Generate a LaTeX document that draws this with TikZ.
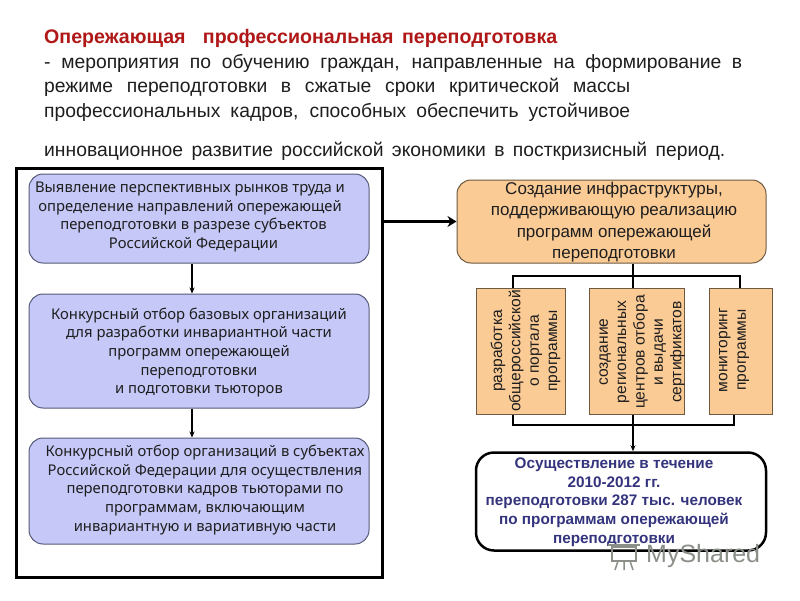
\documentclass[tikz,border=0pt]{standalone}
\usepackage{fontspec}
\setmainfont{Liberation Sans}
\newfontfamily\tahomafont{Noto Sans}
\usepackage{xcolor}
\usetikzlibrary{arrows.meta}
\definecolor{rosso}{HTML}{B01818}
\definecolor{lilla}{HTML}{C6C8F8}
\definecolor{lillabordo}{HTML}{565A78}
\definecolor{arancio}{HTML}{FBCB96}
\definecolor{aranciobordo}{HTML}{6E5A40}
\definecolor{notte}{HTML}{34347E}
\definecolor{testo}{HTML}{1E1E1E}
\definecolor{grigio}{HTML}{8A9088}
\tikzset{
  riga/.style={anchor=west, inner sep=0pt, text=testo, font=\fontsize{19.3}{20}\selectfont},
  lillabox/.style={draw=lillabordo, fill=lilla, rounded corners=14pt, line width=1pt, inner sep=0pt},
  lillatesto/.style={align=center, inner sep=0pt, text=testo, font=\tahomafont\fontsize{14.8}{18.7}\selectfont},
  aranciobox/.style={draw=aranciobordo, fill=arancio, line width=1pt, inner sep=0pt},
  verttesto/.style={rotate=90, align=center, inner sep=0pt, text=testo, font=\fontsize{15.6}{18.4}\selectfont},
  freccia/.style={-{Stealth[length=6pt,width=5pt]}, line width=1.2pt},
  ramo/.style={line width=1.4pt}
}
\begin{document}
\begin{tikzpicture}[x=1pt, y=-1pt]
  \useasboundingbox (0,0) rectangle (800,600);
  \fill[white] (0,0) rectangle (800,600);
  % Heading
  \node[riga, text=rosso, font=\bfseries\fontsize{19.6}{20}\selectfont] (titolo) at (44,38)
    {\makebox[513pt][s]{Опережающая \ профессиональная переподготовка}};
  \node[riga] (riga1) at (44,63) {\makebox[698pt][s]{- мероприятия по обучению граждан, направленные на формирование в}};
  \node[riga] (riga2) at (44,87) {\makebox[586pt][s]{режиме переподготовки в сжатые сроки критической массы}};
  \node[riga] (riga3) at (44,112) {\makebox[586pt][s]{профессиональных кадров, способных обеспечить устойчивое}};
  \node[riga] (riga4) at (44,151) {\makebox[681pt][s]{инновационное развитие российской экономики в посткризисный период.}};
  % Left frame
  \node[draw=black, line width=3pt, minimum width=366pt, minimum height=409pt, inner sep=0pt] (cornice) at (199,372.5) {};
  % Left column
  \node[lillabox, minimum width=340pt, minimum height=89pt] (rynki) at (199,218.5) {};
  \node[lillatesto] (rynkitesto) at (190,217) {Выявление перспективных рынков труда и\\
    определение направлений опережающей\\
    \hspace*{7pt}переподготовки в разрезе субъектов\\
    \hspace*{7pt}Российской Федерации};
  \node[lillabox, minimum width=340pt, minimum height=114pt] (baza) at (199,351) {};
  \node[lillatesto] (bazatesto) at (199,352.5) {Конкурсный отбор базовых организаций\\
    для разработки инвариантной части\\
    программ опережающей\\
    переподготовки\\
    и подготовки тьюторов};
  \node[lillabox, minimum width=340pt, minimum height=106pt] (subekty) at (199,491) {};
  \node[lillatesto] (subektytesto) at (205,490) {Конкурсный отбор организаций в субъектах\\
    Российской Федерации для осуществления\\
    переподготовки кадров тьюторами по\\
    программам, включающим\\
    инвариантную и вариативную части};
  \draw[freccia] (rynki.south -| 192,0) -- (baza.north -| 192,0);
  \draw[freccia] (baza.south -| 192,0) -- (subekty.north -| 192,0);
  % Right column
  \node[aranciobox, rounded corners=14pt, minimum width=309pt, minimum height=83pt] (infra) at (611.5,221.5) {};
  \node[inner sep=0pt, align=center, text=testo, font=\fontsize{17}{21.5}\selectfont] (infratesto) at (614,222)
    {Создание инфраструктуры,\\поддерживающую реализацию\\программ опережающей\\переподготовки};
  \draw[freccia, line width=3pt, -{Stealth[length=9pt,width=11pt]}] (cornice.east |- infra.west) -- (infra.west);
  \node[aranciobox, minimum width=89pt, minimum height=126pt] (portal) at (520.5,351) {};
  \node[verttesto] (portaltesto) at (525.5,351) {разработка\\общероссийской\\о портала\\программы};
  \node[aranciobox, minimum width=95pt, minimum height=126pt] (centry) at (636.5,351) {};
  \node[verttesto] (centrytesto) at (642,352) {создание\\региональных\\центров отбора\\и выдачи\\сертификатов};
  \node[aranciobox, minimum width=63pt, minimum height=126pt] (monitor) at (740.5,351) {};
  \node[verttesto] (monitortesto) at (734,350) {мониторинг\\программы};
  % Branches
  \coordinate (sopra) at (633,276);
  \coordinate (sotto) at (633,425);
  \draw[ramo] (infra.south -| sopra) -- (sopra);
  \draw[ramo] (portal.north -| 513,0) |- (sopra);
  \draw[ramo] (monitor.north -| 740,0) |- (sopra);
  \draw[ramo] (sopra) -- (centry.north -| sopra);
  \draw[ramo] (portal.south -| 513,0) |- (sotto);
  \draw[ramo] (monitor.south -| 734,0) |- (sotto);
  % Result
  \node[draw=black, fill=white, line width=2.5pt, rounded corners=18pt, minimum width=290pt, minimum height=98pt, inner sep=0pt] (esito) at (621,501.5) {};
  \draw[freccia] (centry.south -| sotto) -- (esito.north -| sotto);
  \node[inner sep=0pt, align=center, text=notte, font=\bfseries\fontsize{15.3}{18.7}\selectfont] (esitotesto) at (614,502)
    {Осуществление в течение\\2010-2012 гг.\\переподготовки 287 тыс. человек\\по программам опережающей\\переподготовки};
  % Watermark
  \node[anchor=west, inner sep=0pt, text=grigio, font=\fontsize{25}{25}\selectfont] (marchio) at (646,556) {MyShared};
  \draw[grigio, line width=2pt] (612,547) rectangle (636,561);
  \draw[grigio, line width=2pt] (608,545) -- (640,545);
  \draw[grigio, line width=1.5pt] (618,561) -- (615,570) (624,561) -- (624,570) (630,561) -- (633,570);
\end{tikzpicture}
\end{document}
